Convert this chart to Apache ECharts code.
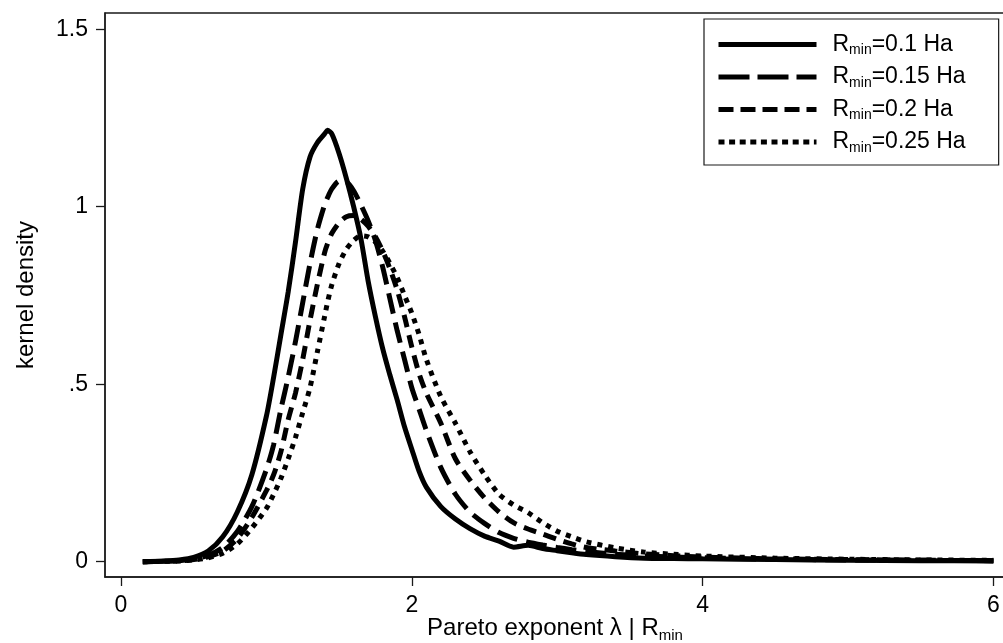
<!DOCTYPE html>
<html>
<head>
<meta charset="utf-8">
<script src="https://cdn.jsdelivr.net/npm/echarts@6/dist/echarts.min.js"></script>
<style>
  html, body { margin: 0; padding: 0; background: #fff; }
  #chart { width: 1003px; height: 643px; }
</style>
</head>
<body>
<div id="chart"></div>
<script>
// Evaluation grid of the Pareto exponent (lambda)
const lambdaGrid = [
  0.15, 0.3, 0.4, 0.5, 0.6, 0.7, 0.8, 0.9,
  1.0, 1.05, 1.1, 1.15, 1.2, 1.25, 1.3, 1.35, 1.4, 1.42, 1.45,
  1.5, 1.55, 1.6, 1.65, 1.7, 1.75, 1.8, 1.85, 1.9, 1.95,
  2.0, 2.05, 2.1, 2.2, 2.3, 2.4, 2.5, 2.6, 2.7, 2.8, 2.9,
  3.0, 3.1, 3.2, 3.4, 3.6, 3.8,
  4.0, 4.5, 5.0, 5.5, 6.0
];

// Kernel density estimates, one per minimum farm size threshold
const densityR010 = [
  0.000, 0.002, 0.005, 0.012, 0.030, 0.070, 0.140, 0.245,
  0.410, 0.520, 0.640, 0.760, 0.900, 1.050, 1.140, 1.180, 1.205, 1.215, 1.205,
  1.150, 1.080, 1.000, 0.910, 0.790, 0.690, 0.600, 0.525, 0.455, 0.380,
  0.317, 0.255, 0.210, 0.155, 0.120, 0.093, 0.072, 0.058, 0.041, 0.046, 0.037,
  0.031, 0.025, 0.020, 0.014, 0.010, 0.009,
  0.008, 0.006, 0.004, 0.003, 0.002
];
const densityR015 = [
  0.000, 0.001, 0.003, 0.008, 0.018, 0.040, 0.085, 0.155,
  0.260, 0.330, 0.430, 0.520, 0.620, 0.730, 0.840, 0.935, 1.005, 1.025, 1.050,
  1.072, 1.070, 1.045, 1.005, 0.960, 0.905, 0.830, 0.740, 0.650, 0.570,
  0.490, 0.430, 0.370, 0.265, 0.190, 0.140, 0.108, 0.082, 0.066, 0.055, 0.047,
  0.040, 0.034, 0.029, 0.021, 0.016, 0.013,
  0.011, 0.007, 0.005, 0.004, 0.003
];
const densityR020 = [
  0.000, 0.001, 0.002, 0.006, 0.014, 0.030, 0.065, 0.125,
  0.200, 0.245, 0.310, 0.400, 0.475, 0.570, 0.680, 0.780, 0.870, 0.895, 0.925,
  0.955, 0.972, 0.975, 0.965, 0.945, 0.915, 0.875, 0.825, 0.765, 0.690,
  0.605, 0.530, 0.475, 0.390, 0.290, 0.230, 0.180, 0.140, 0.110, 0.092, 0.078,
  0.063, 0.050, 0.040, 0.030, 0.022, 0.017,
  0.013, 0.008, 0.006, 0.004, 0.003
];
const densityR025 = [
  0.000, 0.001, 0.002, 0.005, 0.011, 0.024, 0.050, 0.095,
  0.150, 0.190, 0.235, 0.290, 0.350, 0.420, 0.490, 0.590, 0.690, 0.730, 0.780,
  0.840, 0.880, 0.905, 0.918, 0.915, 0.900, 0.875, 0.840, 0.800, 0.750,
  0.700, 0.640, 0.570, 0.465, 0.390, 0.310, 0.245, 0.190, 0.160, 0.138, 0.110,
  0.086, 0.070, 0.056, 0.039, 0.027, 0.021,
  0.016, 0.010, 0.007, 0.005, 0.004
];

const seriesNames = ['R_min=0.1 Ha', 'R_min=0.15 Ha', 'R_min=0.2 Ha', 'R_min=0.25 Ha'];
const seriesValues = [densityR010, densityR015, densityR020, densityR025];

const xTickValues = [0, 2, 4, 6];
const xTickLabels = ['0', '2', '4', '6'];
const yTickValues = [0, 0.5, 1, 1.5];
const yTickLabels = ['0', '.5', '1', '1.5'];

const FONT = '"Liberation Sans", Arial, Helvetica, sans-serif';
const INK = '#000';
const AXIS = '#1a1a1a';

// line patterns: in the plot and in the legend keys
const plotDash = ['solid', [21, 9], [13, 8], [5, 6]];
const keyDash = ['solid', [31, 8], [15, 7], [6, 4.6]];

const chart = echarts.init(document.getElementById('chart'), null, { renderer: 'canvas' });

const axisCommon = {
  type: 'value',
  splitLine: { show: false },
  nameMoveOverlap: false,
  axisLine: { show: true, onZero: false, lineStyle: { color: AXIS, width: 1.5 } },
  axisTick: { show: true, inside: false, length: 9, lineStyle: { color: AXIS, width: 1.3 } }
};

const option = {
  animation: false,
  backgroundColor: '#fff',
  textStyle: { fontFamily: FONT, color: INK },
  grid: {
    left: 105, right: -2, top: 13, bottom: 66,
    containLabel: false,
    outerBoundsMode: 'none',
    show: true, borderColor: AXIS, borderWidth: 1.3, backgroundColor: 'transparent'
  },
  xAxis: Object.assign({}, axisCommon, {
    min: -0.110, max: 6.080,
    axisTick: Object.assign({}, axisCommon.axisTick, { customValues: xTickValues }),
    axisLabel: {
      customValues: xTickValues,
      formatter: v => xTickLabels[xTickValues.indexOf(v)],
      fontSize: 23, margin: 17, color: INK, fontFamily: FONT
    },
    name: '{a|Pareto exponent λ | R}{b|min}',
    nameLocation: 'middle',
    nameGap: 36,
    nameTextStyle: {
      rich: {
        a: { fontSize: 24, lineHeight: 30, color: INK, fontFamily: FONT },
        b: { fontSize: 15, lineHeight: 15, verticalAlign: 'bottom', color: INK, fontFamily: FONT }
      }
    }
  }),
  yAxis: Object.assign({}, axisCommon, {
    min: -0.0431, max: 1.5456,
    axisTick: Object.assign({}, axisCommon.axisTick, { customValues: yTickValues }),
    axisLabel: {
      customValues: yTickValues,
      formatter: v => yTickLabels[yTickValues.indexOf(v)],
      fontSize: 23, margin: 17, color: INK, fontFamily: FONT
    },
    name: 'kernel density',
    nameLocation: 'middle',
    nameRotate: 90,
    nameGap: 67,
    nameTextStyle: { fontSize: 24, color: INK, fontFamily: FONT }
  }),
  legend: {
    orient: 'vertical',
    left: 704, top: 19,
    padding: [14, 33, 10, 12],
    itemWidth: 98, itemHeight: 14, itemGap: 8,
    backgroundColor: '#fff',
    borderColor: AXIS, borderWidth: 1.2, borderRadius: 0,
    selectedMode: false,
    itemStyle: { opacity: 0 },
    data: seriesNames.map((n, i) => ({
      name: n,
      itemStyle: { opacity: 0 },
      lineStyle: { color: INK, width: 5, type: keyDash[i] }
    })),
    formatter: name => '{gap|}{r|R}{s|min}{r|' + name.slice(5) + '}',
    textStyle: {
      color: INK, fontFamily: FONT,
      rich: {
        gap: { width: 11 },
        r: { fontSize: 23, lineHeight: 26, color: INK, fontFamily: FONT },
        s: { fontSize: 14, lineHeight: 14, verticalAlign: 'bottom', color: INK, fontFamily: FONT }
      }
    }
  },
  series: seriesNames.map((n, i) => ({
    name: n,
    type: 'line',
    symbol: 'none',
    showSymbol: false,
    smooth: 0.25,
    clip: true,
    data: lambdaGrid.map((x, j) => [x, seriesValues[i][j]]),
    lineStyle: { color: INK, width: 5, type: plotDash[i], cap: 'butt' },
    itemStyle: { color: INK },
    emphasis: { disabled: true },
    z: 4 - i
  }))
};

chart.setOption(option);
</script>
</body>
</html>
